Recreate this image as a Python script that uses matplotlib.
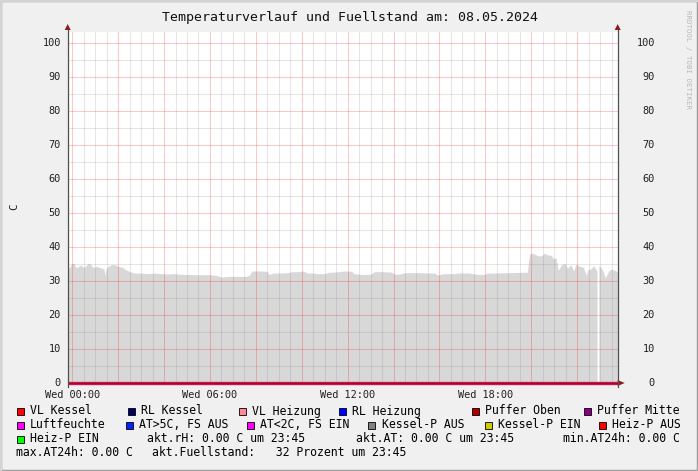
"""Temperaturverlauf / Fuellstand, rrdtool look
"""
import matplotlib
matplotlib.use('Agg')
import matplotlib.pyplot as plt
from matplotlib.patches import Rectangle, Polygon
import numpy as np

W, H = 698, 471

# fill level (Fuellstand) over the day, hours since 00:00
hours = [-0.22, -0.1, 0.0, 0.1, 0.2, 0.3, 0.4, 0.5, 0.6, 0.7, 0.8, 0.9,
         1.0, 1.1, 1.2, 1.3, 1.4, 1.45, 1.5, 1.6, 1.75, 1.9, 2.05, 2.2,
         2.35, 2.5, 2.7, 3.0, 3.3, 3.6, 3.9, 4.2, 4.5, 4.8, 5.1, 5.4, 5.7,
         6.0, 6.3, 6.55, 6.8, 7.2, 7.6, 7.75, 7.85, 8.2, 8.5, 8.6, 8.8,
         9.1, 9.4, 9.6, 9.9, 10.1, 10.25, 10.5, 10.7, 11.0, 11.2, 11.5,
         11.9, 12.2, 12.3, 12.6, 13.0, 13.2, 13.5, 13.9, 14.1, 14.3, 14.5,
         14.9, 15.2, 15.5, 15.8, 15.95, 16.2, 16.6, 16.9, 17.3, 17.7, 18.0,
         18.1, 18.5, 19.0, 19.5, 19.85, 19.95, 20.1, 20.3, 20.45, 20.6,
         20.75, 20.9, 21.0, 21.1, 21.2, 21.35, 21.5, 21.6, 21.75, 21.88,
         21.97, 22.1, 22.3, 22.42, 22.5, 22.6, 22.75, 22.89, 22.93, 22.97,
         23.05, 23.15, 23.25, 23.4, 23.5, 23.6, 23.78]
fuellstand = [33.7, 33.8, 35.0, 35.0, 33.7, 34.2, 34.5, 33.9, 34.2, 35.0,
              34.9, 34.0, 33.9, 34.2, 33.8, 33.7, 33.4, 31.6, 33.6, 34.2,
              34.7, 34.6, 34.1, 33.9, 33.2, 32.7, 32.2, 32.2, 32.0, 32.2,
              32.0, 31.9, 32.0, 31.8, 31.8, 31.7, 31.7, 31.7, 31.5, 31.0,
              31.2, 31.2, 31.2, 31.6, 32.8, 32.8, 32.7, 31.8, 32.2, 32.2,
              32.3, 32.6, 32.6, 32.8, 32.2, 32.2, 32.0, 32.0, 32.4, 32.5,
              32.8, 32.7, 32.0, 31.8, 31.8, 32.6, 32.6, 32.5, 31.8, 31.9,
              32.3, 32.3, 32.3, 32.2, 32.2, 31.6, 32.0, 32.0, 32.2, 32.2,
              31.8, 31.8, 32.2, 32.2, 32.3, 32.4, 32.4, 37.8, 38.0, 37.3,
              37.2, 38.0, 37.5, 37.4, 36.3, 36.8, 33.0, 34.6, 35.0, 33.6,
              34.6, 32.8, 34.8, 34.3, 33.8, 31.6, 33.3, 33.3, 34.3, 32.8,
              np.nan, 34.3, 34.0, 32.8, 30.8, 32.8, 33.3, 33.2, 32.6]
# all temperature sensors read 0.00 C
sensor_value = 0.0

legend_items = [
    ('VL Kessel', '#ff0000'), ('RL Kessel', '#000066'),
    ('VL Heizung', '#ff8899'), ('RL Heizung', '#0000ff'),
    ('Puffer Oben', '#aa0000'), ('Puffer Mitte', '#880088'),
    ('Luftfeuchte', '#ff00ff'), ('AT>5C, FS AUS', '#0022ff'),
    ('AT<2C, FS EIN', '#ff00ff'), ('Kessel-P AUS', '#808080'),
    ('Kessel-P EIN', '#cccc00'), ('Heiz-P AUS', '#ff0000'),
    ('Heiz-P EIN', '#00ff00'),
]
summary_texts = ['akt.rH: 0.00 C um 23:45', 'akt.AT: 0.00 C um 23:45',
                 'min.AT24h: 0.00 C', 'max.AT24h: 0.00 C',
                 'akt.Fuellstand:   32 Prozent um 23:45']
xtick_hours = [0, 6, 12, 18]
xtick_labels = ['Wed 00:00', 'Wed 06:00', 'Wed 12:00', 'Wed 18:00']
ytick_values = list(range(0, 101, 10))

MONO = 'DejaVu Sans Mono'
plt.rcParams['font.family'] = MONO
TICK_FS = 7.4


def fx(x):
    return x / W


def fy(y):
    return 1 - y / H


fig = plt.figure(figsize=(W / 100, H / 100), dpi=100)
fig.patch.set_facecolor('#f0f0f0')

# 3d-ish frame of rrdtool
fig.patches.append(Rectangle((0, 0), 1, 1, transform=fig.transFigure,
                             fill=False, edgecolor='#a0a0a0', linewidth=2.5))
fig.add_artist(plt.Line2D([0, 1], [fy(1), fy(1)], color='#d4d4d4', lw=1.5))
fig.add_artist(plt.Line2D([fx(1), fx(1)], [0, 1], color='#d4d4d4', lw=1.5))

left, right, top, bottom = 67.7, 617.7, 32.0, 383.0
ax = fig.add_axes([fx(left), fy(bottom), fx(right - left),
                   (bottom - top) / H])
ax.set_facecolor('white')
ax.set_xlim(-0.2, 23.77)
ax.set_ylim(0, (bottom - top) / 3.4)
for s in ax.spines.values():
    s.set_visible(False)
ax.set_xticks([])
ax.set_yticks([])

# data
ax.fill_between(hours, 0, fuellstand, color='#d8d8d8', linewidth=0,
                zorder=1)

# grid on top of area
for h in np.arange(0, 24, 0.5):
    major = (h % 2) == 0
    ax.axvline(h, color='#ff0000' if major else '#808080',
               alpha=0.22 if major else 0.2, lw=0.75, zorder=2)
for v in range(5, 104, 5):
    major = (v % 10) == 0
    ax.axhline(v, color='#ff0000' if major else '#808080',
               alpha=0.22 if major else 0.2, lw=0.75, zorder=2)

ax.plot([-0.2, 23.77], [sensor_value, sensor_value], color='#d01048',
        lw=2.4, zorder=4, clip_on=False, solid_capstyle='butt')
ax.plot([-0.2, 23.77], [sensor_value, sensor_value], color='#a00a30',
        lw=0.7, zorder=5, clip_on=False, solid_capstyle='butt')

# axes lines and arrows (figure coords)
fig.add_artist(plt.Line2D([fx(left), fx(left)], [fy(bottom + 4), fy(top - 2)],
                          color='#505050', lw=0.9))
fig.add_artist(plt.Line2D([fx(right), fx(right)], [fy(bottom + 4), fy(top - 2)],
                          color='#505050', lw=0.9))
for xa in (left, right):
    fig.patches.append(Polygon([(fx(xa - 3), fy(top - 2)),
                                (fx(xa + 3), fy(top - 2)),
                                (fx(xa), fy(top - 8))],
                               closed=True, transform=fig.transFigure,
                               facecolor='#8b1a1a', edgecolor='none'))
fig.patches.append(Polygon([(fx(right), fy(bottom - 3)),
                            (fx(right), fy(bottom + 3)),
                            (fx(right + 7), fy(bottom))],
                           closed=True, transform=fig.transFigure,
                           facecolor='#8b1a1a', edgecolor='none'))

# tick labels
for v in ytick_values:
    ax.annotate(str(v), xy=(-0.2, v), xytext=(-7, 0),
                textcoords='offset pixels', ha='right', va='center',
                fontsize=TICK_FS, color='#202020')
    ax.annotate(str(v), xy=(23.77, v), xytext=(37, 0),
                textcoords='offset pixels', ha='right', va='center',
                fontsize=TICK_FS, color='#202020')
for h, lab in zip(xtick_hours, xtick_labels):
    ax.annotate(lab, xy=(h, 0), xytext=(0, -12), textcoords='offset pixels',
                ha='center', va='center', fontsize=TICK_FS, color='#202020')

fig.text(fx(349.5), fy(17), 'Temperaturverlauf und Fuellstand am: 08.05.2024',
         ha='center', va='center', fontsize=9.5, color='#101010')
fig.text(fx(14), fy(207), 'C', rotation=90, ha='center', va='center',
         fontsize=7.8, color='#202020')
fig.text(fx(688), fy(60), 'RRDTOOL / TOBI OETIKER', rotation=270,
         ha='center', va='center', fontsize=5.3, color='#b8b8b8')

# legend
box_x = [16.5, 127.5, 238.5, 338.5, 471.5, 583.5,
         16.5, 125.5, 247.0, 368.0, 485.0, 599.0,
         16.5]
row_y = [411, 425, 439, 453]
rows = [0] * 6 + [1] * 6 + [2]
for (name, col), bx, r in zip(legend_items, box_x, rows):
    y = row_y[r]
    fig.patches.append(Rectangle((fx(bx), fy(y + 4)), 7 / W, 7 / H,
                                 transform=fig.transFigure, facecolor=col,
                                 edgecolor='black', linewidth=0.6))
    fig.text(fx(bx + 13.5), fy(y), name, ha='left', va='center',
             fontsize=8.3, color='black')

summary_pos = [(147, 2), (356, 2), (563, 2), (16, 3), (152, 3)]
for txt, (sx, r) in zip(summary_texts, summary_pos):
    fig.text(fx(sx), fy(row_y[r]), txt, ha='left', va='center',
             fontsize=8.3, color='black')

fig.savefig('out.png', dpi=100, facecolor=fig.get_facecolor())
